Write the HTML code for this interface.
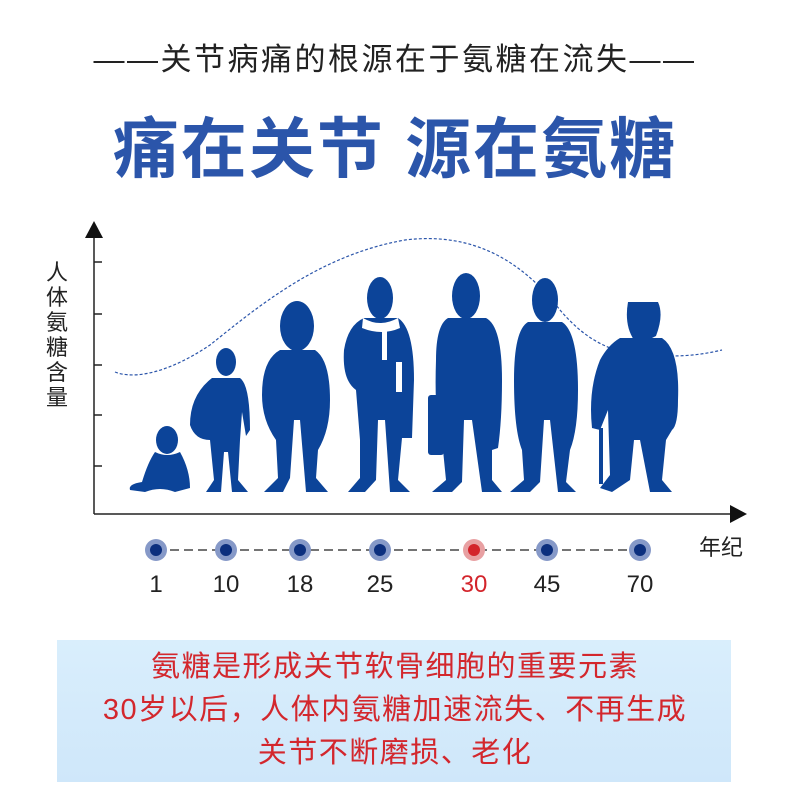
<!DOCTYPE html>
<html><head><meta charset="utf-8"><style>
body{margin:0;width:790px;height:804px;background:#fff;overflow:hidden;position:relative;font-family:"Liberation Sans","Noto Sans CJK SC",sans-serif}
.t{position:absolute;left:0;width:790px;text-align:center;white-space:nowrap}
</style></head><body>
<div class="t" style="top:34px;font-size:31px;color:#222;letter-spacing:2.5px;">——关节病痛的根源在于氨糖在流失——</div>
<div class="t" style="top:96px;font-size:66px;font-weight:bold;color:#2b55aa;letter-spacing:2px;">痛在关节 源在氨糖</div>
<svg width="790" height="804" style="position:absolute;left:0;top:0" xmlns="http://www.w3.org/2000/svg">
<g stroke="#222" stroke-width="1.5" fill="none">
<line x1="94" y1="236" x2="94" y2="514"/><line x1="94" y1="514" x2="732" y2="514"/>
<line x1="94" y1="262" x2="102" y2="262"/><line x1="94" y1="314" x2="102" y2="314"/><line x1="94" y1="365" x2="102" y2="365"/><line x1="94" y1="415" x2="102" y2="415"/><line x1="94" y1="466" x2="102" y2="466"/>
</g>
<polygon points="94,221 85,238 103,238" fill="#111"/>
<polygon points="747,514 730,505 730,523" fill="#111"/>
<path d="M115,372 C135,380 170,372 210,345 C260,305 320,255 405,240 C470,232 520,258 560,310 C590,345 620,358 670,356 C690,356 705,354 722,350" stroke="#2b55aa" stroke-width="1.2" stroke-dasharray="3,2" fill="none"/>
<g fill="#0c4499">
<ellipse cx="167" cy="440" rx="11" ry="14"/>
<path d="M155,452 Q167,458 180,452 Q190,470 190,488 L175,492 Q160,486 145,492 L130,490 Q128,484 142,482 Q148,462 155,452Z"/>
<ellipse cx="226" cy="362" rx="10" ry="14"/>
<path d="M212,378 L240,378 Q250,385 250,430 L246,436 L242,412 L240,440 L238,480 L248,492 L232,492 L228,452 L224,452 L221,492 L206,492 L214,480 L210,440 Q195,440 190,425 Q190,395 212,378Z"/>
<ellipse cx="297" cy="326" rx="17" ry="25"/>
<path d="M280,350 L315,350 Q330,360 330,400 Q330,430 318,450 L316,478 L328,492 L306,492 L300,420 L294,420 L290,478 L283,492 L264,492 L278,478 L276,440 Q262,420 262,395 Q262,360 280,350Z"/>
<ellipse cx="380" cy="298" rx="13" ry="21"/>
<path d="M364,318 L398,318 Q414,328 414,380 L412,438 L402,438 L398,480 L410,492 L390,492 L385,420 L378,420 L376,480 L365,492 L348,492 L360,478 L360,440 L356,390 Q342,380 344,350 Q348,325 364,318Z"/>
<ellipse cx="466" cy="296" rx="14" ry="23"/>
<path d="M448,318 L486,318 Q502,326 502,380 Q502,420 498,448 L492,450 L492,480 L502,492 L482,492 L472,420 L464,420 L462,482 L452,492 L432,492 L446,480 L442,440 Q434,420 436,360 Q436,325 448,318Z"/>
<rect x="428" y="395" width="16" height="60" rx="3"/>
<ellipse cx="545" cy="300" rx="13" ry="22"/>
<path d="M528,322 L562,322 Q578,332 578,390 Q578,430 570,450 L566,482 L576,492 L558,492 L550,420 L544,420 L540,482 L530,492 L510,492 L524,480 L522,450 Q514,430 514,380 Q514,330 528,322Z"/>
<path d="M628,302 L658,302 Q664,315 656,336 L648,340 L634,340 Q624,325 628,302Z"/>
<path d="M620,338 L662,338 Q680,350 678,400 Q678,425 672,430 L666,440 L662,480 L672,492 L650,492 L640,440 L634,440 L630,480 L612,492 L600,488 L610,475 L608,410 L600,430 L592,428 Q588,390 600,360 Q608,345 620,338Z"/>
<rect x="599" y="428" width="4" height="56"/>
</g>
<g fill="#fff"><path d="M363,318 Q380,328 398,318 L400,328 Q382,336 362,328Z"/><rect x="382" y="330" width="5" height="30"/><rect x="396" y="362" width="6" height="30"/></g>
<line x1="156" y1="550" x2="640" y2="550" stroke="#222" stroke-width="1.2" stroke-dasharray="9,5"/>
<g>
<circle cx="156" cy="550" r="11" fill="#8699c8"/><circle cx="156" cy="550" r="6" fill="#0c2f7e"/>
<circle cx="226" cy="550" r="11" fill="#8699c8"/><circle cx="226" cy="550" r="6" fill="#0c2f7e"/>
<circle cx="300" cy="550" r="11" fill="#8699c8"/><circle cx="300" cy="550" r="6" fill="#0c2f7e"/>
<circle cx="380" cy="550" r="11" fill="#8699c8"/><circle cx="380" cy="550" r="6" fill="#0c2f7e"/>
<circle cx="474" cy="550" r="11" fill="#e8a0a2"/><circle cx="474" cy="550" r="6" fill="#d3242b"/>
<circle cx="547" cy="550" r="11" fill="#8699c8"/><circle cx="547" cy="550" r="6" fill="#0c2f7e"/>
<circle cx="640" cy="550" r="11" fill="#8699c8"/><circle cx="640" cy="550" r="6" fill="#0c2f7e"/>
</g>
<g font-size="24" fill="#222" text-anchor="middle" font-family="Liberation Sans, sans-serif">
<text x="156" y="592">1</text><text x="226" y="592">10</text><text x="300" y="592">18</text><text x="380" y="592">25</text><text x="474" y="592" fill="#d3242b">30</text><text x="547" y="592">45</text><text x="640" y="592">70</text>
</g>
<text x="721" y="555" font-size="22" fill="#222" text-anchor="middle" font-family="Liberation Sans, Noto Sans CJK SC, sans-serif">年纪</text>
<g font-size="22" fill="#222" text-anchor="middle" font-family="Liberation Sans, Noto Sans CJK SC, sans-serif">
<text x="57" y="280">人</text><text x="57" y="305">体</text><text x="57" y="330">氨</text><text x="57" y="355">糖</text><text x="57" y="380">含</text><text x="57" y="405">量</text>
</g>
</svg>
<div style="position:absolute;left:57px;top:640px;width:674px;height:142px;background:linear-gradient(180deg,#d9eefc,#cfe7fa);"></div>
<div class="t" style="top:646px;font-size:29px;line-height:43px;color:#d3272d;letter-spacing:1.5px;">氨糖是形成关节软骨细胞的重要元素<br>30岁以后，人体内氨糖加速流失、不再生成<br>关节不断磨损、老化</div>
</body></html>
